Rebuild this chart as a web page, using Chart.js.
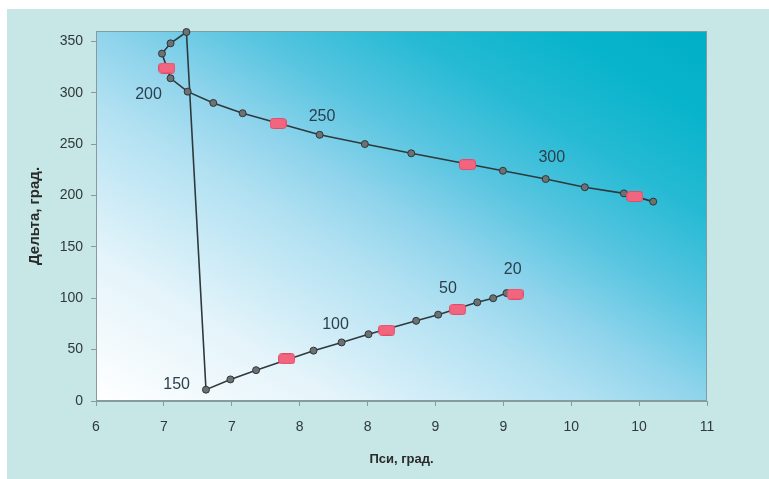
<!DOCTYPE html>
<html>
<head>
<meta charset="utf-8">
<script src="https://cdn.jsdelivr.net/npm/chart.js@4.4.1/dist/chart.umd.min.js"></script>
<style>
  body { margin: 0; background: #ffffff; }
  #wrap { width: 769px; height: 479px; }
</style>
</head>
<body>
<div id="wrap"><canvas id="GraficoPsiDelta"></canvas></div>
<script>
// datos de la curva (Пси / Дельта)
var psiLine = [9.36, 9.25, 9.12, 8.80, 8.62, 8.23, 8.01, 7.78, 7.31, 7.10, 6.90,
  6.74, 6.61, 6.54, 6.61, 6.75, 6.96, 7.20, 7.83, 8.20, 8.58, 9.33, 9.68, 10.00, 10.32, 10.56];
var deltaLine = [105, 100, 96, 84, 78, 65, 57, 49, 30, 21, 11,
  359, 348, 338, 314, 301, 290, 280, 259, 250, 241, 224, 216, 208, 202, 194];

// marcas rojas
var psiMarks = [9.43, 8.96, 8.38, 7.56, 6.58, 7.49, 9.04, 10.41];
var deltaMarks = [104, 89, 69, 41, 324, 270, 230, 199];

// etiquetas del parametro
var paramLabels = ['20', '50', '100', '150', '200', '250', '300'];
var labelPsi = [9.41, 8.88, 7.96, 6.66, 6.43, 7.85, 9.73];
var labelDelta = [128, 109, 74, 16, 298, 277, 237];

// ticks
var xTickLabels = ['6', '7', '7', '8', '8', '9', '9', '10', '10', '11'];
var yTickValues = [0, 50, 100, 150, 200, 250, 300, 350];

var markCanvas = document.createElement('canvas');
markCanvas.width = 17;
markCanvas.height = 11;
var mctx = markCanvas.getContext('2d');
mctx.beginPath();
mctx.roundRect(0.5, 0.5, 16, 10, 3);
mctx.fillStyle = '#f1657e';
mctx.fill();
mctx.strokeStyle = '#e24c68';
mctx.stroke();

var fondo = {
  id: 'fondo',
  beforeDraw: function (chart) {
    var c = chart.ctx, a = chart.chartArea;
    c.save();
    c.fillStyle = '#c6e7e5';
    c.fillRect(0, 0, chart.width, chart.height);
    c.fillStyle = '#ffffff';
    c.fillRect(0, 0, chart.width, 9);
    c.fillRect(0, 0, 7, chart.height);
    // gradiente del area
    c.translate(a.left, a.top);
    c.scale(a.right - a.left, a.bottom - a.top);
    var g = c.createLinearGradient(0, 1, 1, 0);
    g.addColorStop(0, '#ffffff');
    g.addColorStop(0.2, '#e4f4fa');
    g.addColorStop(0.4, '#b2e1f2');
    g.addColorStop(0.5, '#90d4ec');
    g.addColorStop(0.62, '#58c5e0');
    g.addColorStop(0.75, '#26bad4');
    g.addColorStop(0.88, '#08b4cb');
    g.addColorStop(1, '#00afc5');
    c.fillStyle = g;
    c.fillRect(0, 0, 1, 1);
    c.restore();
    c.save();
    c.strokeStyle = '#7c9ea2';
    c.lineWidth = 1;
    c.strokeRect(a.left + 0.5, a.top + 0.5, a.right - a.left - 1, a.bottom - a.top - 1);
    c.restore();
  },
  afterDatasetsDraw: function (chart) {
    var c = chart.ctx, sx = chart.scales.x, sy = chart.scales.y;
    c.save();
    c.font = '16px "Liberation Sans", Arial, sans-serif';
    c.fillStyle = '#2b3f4c';
    c.textAlign = 'center';
    c.textBaseline = 'middle';
    for (var i = 0; i < paramLabels.length; i++) {
      c.fillText(paramLabels[i], sx.getPixelForValue(labelPsi[i]), sy.getPixelForValue(labelDelta[i]));
    }
    c.restore();
  }
};

var ctx1 = document.getElementById('GraficoPsiDelta').getContext('2d');
var GraficoPsiDelta = new Chart(ctx1, {
  type: 'scatter',
  data: {
    datasets: [{
      data: psiMarks.map(function (x, i) { return { x: x, y: deltaMarks[i] }; }),
      pointStyle: markCanvas,
      pointRadius: 8,
      showLine: false,
      clip: false
    }, {
      data: psiLine.map(function (x, i) { return { x: x, y: deltaLine[i] }; }),
      showLine: true,
      borderColor: '#2e393d',
      borderWidth: 1.6,
      pointRadius: 3.5,
      pointBackgroundColor: '#6c7274',
      pointBorderColor: '#2f3638',
      pointBorderWidth: 1,
      clip: false
    }]
  },
  options: {
    responsive: true,
    maintainAspectRatio: false,
    animation: false,
    layout: { padding: { left: 0, top: 31, right: 62, bottom: 0 } },
    plugins: { legend: { display: false }, tooltip: { enabled: false } },
    scales: {
      x: {
        type: 'linear',
        min: 6,
        max: 11,
        afterBuildTicks: function (scale) {
          scale.ticks = xTickLabels.map(function (t, i) { return { value: 6 + i * 5 / 9 }; });
        },
        afterFit: function (scale) { scale.height = 78; },
        grid: { drawOnChartArea: false, tickLength: 5, color: '#8a9a9c' },
        border: { color: '#8a9a9c' },
        ticks: {
          autoSkip: false,
          maxRotation: 0,
          padding: 13,
          color: '#30383a',
          font: { family: '"Liberation Sans", Arial, sans-serif', size: 14 },
          callback: function (value, index) { return xTickLabels[index]; }
        },
        title: {
          display: true,
          text: 'Пси, град.',
          color: '#2a2a2a',
          font: { family: '"Liberation Sans", Arial, sans-serif', size: 13, weight: 'bold' },
          padding: { top: 0, bottom: 12 }
        }
      },
      y: {
        min: 0,
        max: 360,
        afterBuildTicks: function (scale) {
          scale.ticks = yTickValues.map(function (v) { return { value: v }; });
        },
        afterFit: function (scale) { scale.width = 96; },
        grid: { drawOnChartArea: false, tickLength: 5, color: '#8a9a9c' },
        border: { color: '#8a9a9c' },
        ticks: {
          padding: 8,
          color: '#30383a',
          font: { family: '"Liberation Sans", Arial, sans-serif', size: 14 }
        },
        title: {
          display: true,
          text: 'Дельта, град.',
          color: '#2a2a2a',
          font: { family: '"Liberation Sans", Arial, sans-serif', size: 15, weight: 'bold' },
          padding: { top: 26, bottom: 0 }
        }
      }
    }
  },
  plugins: [fondo]
});
</script>
</body>
</html>
